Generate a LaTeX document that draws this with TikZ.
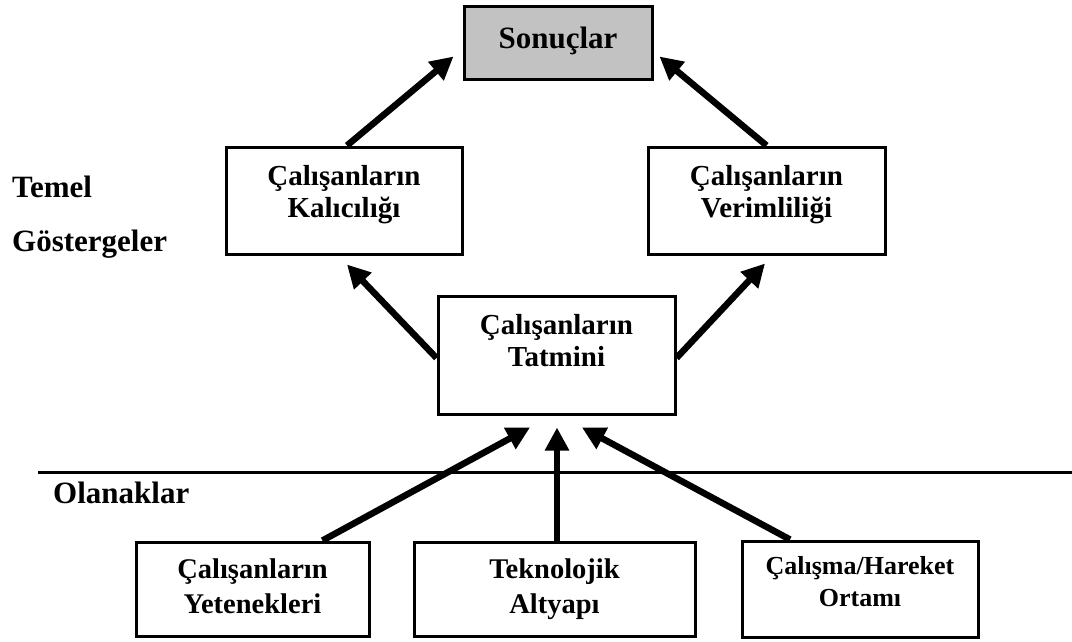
\documentclass[tikz,border=0pt]{standalone}
\usepackage{fontspec}
\setmainfont{Liberation Serif}
\usetikzlibrary{arrows.meta}
\begin{document}
\begin{tikzpicture}[x=1pt,y=-1pt,
  box/.style={draw=black,line width=3pt,inner sep=0pt,fill=white},
  lbl/.style={font=\bfseries\fontsize{29}{32}\selectfont,align=center,inner sep=0pt,anchor=north},
  lblsmall/.style={font=\bfseries\fontsize{26}{32}\selectfont,align=center,inner sep=0pt,anchor=north},
  side/.style={font=\bfseries\fontsize{31}{34}\selectfont,inner sep=0pt,anchor=base west},
  arr/.style={line width=6.5pt,-{Triangle[length=23pt,width=23pt]}}]
\useasboundingbox (0,0) rectangle (1072,641);

% outcome box
\node[box,fill={rgb,255:red,194;green,194;blue,194},minimum width=188pt,minimum height=73pt] (son) at (558,42.5) {};
\node[font=\bfseries\fontsize{31}{34}\selectfont,inner sep=0pt,anchor=base] (sontxt) at (558,48) {Sonuçlar};

% key indicators
\node[box,minimum width=236pt,minimum height=107pt] (kal) at (344,200.5) {};
\node[lbl] (kaltxt) at (344,165) {Çalışanların\\Kalıcılığı};
\node[box,minimum width=237pt,minimum height=107pt] (ver) at (766.5,200.5) {};
\node[lbl] (vertxt) at (766.5,165) {Çalışanların\\Verimliliği};
\node[box,minimum width=237pt,minimum height=118pt] (tat) at (556.5,355) {};
\node[lbl] (tattxt) at (556.5,314) {Çalışanların\\Tatmini};

% enablers
\node[box,minimum width=233pt,minimum height=94pt] (yet) at (252.5,589) {};
\node[lbl,font=\bfseries\fontsize{28.5}{35}\selectfont] (yettxt) at (252.5,559) {Çalışanların\\Yetenekleri};
\node[box,minimum width=281pt,minimum height=94pt] (tek) at (554.5,589) {};
\node[lbl,font=\bfseries\fontsize{28.5}{35}\selectfont] (tektxt) at (554.5,559) {Teknolojik\\Altyapı};
\node[box,minimum width=236pt,minimum height=96pt] (cal) at (860,589) {};
\node[lblsmall] (caltxt) at (860,556) {Çalışma/Hareket\\Ortamı};

% side labels and divider
\node[side] (temel) at (12,197) {Temel};
\node[side] (gost) at (12,251) {Göstergeler};
\node[side] (olan) at (53,503) {Olanaklar};
\coordinate (divl) at (38,472);
\coordinate (divr) at (1072,472);
\draw[line width=3pt] (divl) -- (divr);

% connectors
\draw[arr] ([xshift=3]kal.north) -- ([shift={(-9,14)}]son.west);
\draw[arr] (ver.north) -- ([shift={(6,14)}]son.east);
\draw[arr] ([yshift=-3]tat.west) -- ([shift={(3,9)}]kal.south);
\draw[arr] ([yshift=-3]tat.east) -- ([shift={(-1.5,8)}]ver.south);
\draw[arr] ([xshift=70]yet.north) -- ([shift={(-26.5,12)}]tat.south);
\draw[arr] ([xshift=2.5]tek.north) -- ([shift={(0.5,12)}]tat.south);
\draw[arr] ([xshift=-70]cal.north) -- ([shift={(25.5,12)}]tat.south);
\end{tikzpicture}
\end{document}
